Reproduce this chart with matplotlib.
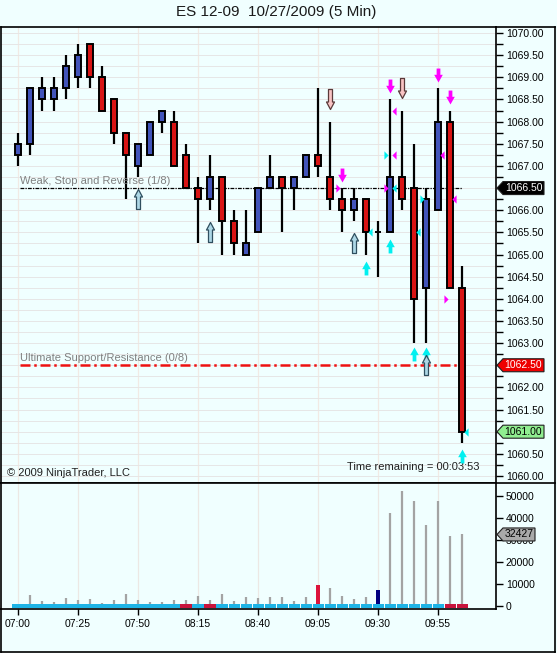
import numpy as np
import matplotlib
matplotlib.use('Agg')
import matplotlib.pyplot as plt
import matplotlib.transforms as mtransforms
from matplotlib.path import Path
from matplotlib.patches import Polygon
from matplotlib.ticker import MultipleLocator, FormatStrFormatter

plt.rcParams['font.family'] = ['Liberation Sans', 'DejaVu Sans']

# ES 12-09, 5 min bars 07:00 .. 10:05
opens = [1067.25, 1067.5, 1068.5, 1068.5, 1068.75, 1069.0, 1069.75, 1069.0, 1068.5, 1067.75,
         1067.0, 1067.25, 1068.0, 1068.0, 1067.25, 1066.5, 1066.25, 1066.75, 1065.75, 1065.0,
         1065.5, 1066.5, 1066.75, 1066.5, 1066.75, 1067.25, 1066.75, 1066.25, 1066.0, 1066.25,
         1065.5, 1065.5, 1066.75, 1066.5, 1064.25, 1066.0, 1068.0, 1064.25]
highs = [1067.75, 1068.75, 1069.0, 1069.0, 1069.5, 1069.75, 1069.75, 1069.25, 1068.5, 1067.75,
         1067.5, 1068.0, 1068.25, 1068.25, 1067.5, 1066.75, 1067.25, 1066.75, 1066.0, 1066.0,
         1066.5, 1067.25, 1066.75, 1066.75, 1067.25, 1068.75, 1068.0, 1066.5, 1066.5, 1066.25,
         1065.75, 1068.5, 1068.25, 1067.5, 1066.5, 1068.75, 1068.25, 1064.75]
lows = [1067.0, 1067.25, 1068.25, 1068.25, 1068.5, 1068.75, 1068.75, 1068.25, 1067.5, 1066.25,
        1066.75, 1067.25, 1067.75, 1067.0, 1066.5, 1065.25, 1066.0, 1065.0, 1065.0, 1065.0,
        1065.5, 1066.5, 1065.5, 1066.0, 1066.75, 1066.75, 1066.0, 1065.5, 1065.75, 1065.0,
        1064.5, 1065.5, 1066.0, 1063.0, 1063.0, 1066.0, 1064.25, 1060.75]
closes = [1067.5, 1068.75, 1068.75, 1068.75, 1069.25, 1069.5, 1069.0, 1068.25, 1067.75, 1067.25,
          1067.5, 1068.0, 1068.25, 1067.0, 1066.5, 1066.25, 1066.75, 1065.75, 1065.25, 1065.25,
          1066.5, 1066.75, 1066.5, 1066.75, 1067.25, 1067.0, 1066.25, 1066.0, 1066.25, 1065.5,
          1065.5, 1066.75, 1066.25, 1064.0, 1066.25, 1068.0, 1064.25, 1061.0]
volumes = [1000, 5000, 2300, 1700, 3600, 2700, 3200, 1500, 2700, 5500,
           2700, 1600, 1600, 2600, 2700, 4700, 2700, 5500, 2300, 4200,
           3800, 4200, 4200, 2300, 4200, 9500, 8300, 4700, 3200, 4200,
           7300, 42200, 52100, 47600, 36700, 47600, 31700, 32427]
time_labels = ['07:00', '07:25', '07:50', '08:15', '08:40', '09:05', '09:30', '09:55']

# bars whose volume is drawn as a coloured block, and bars with a red base marker
vol_special = {25: '#DC143C', 30: '#000080'}
base_red = [14, 16, 36, 37]

# Murrey math levels
level_prices = [1066.5, 1062.5]
level_names = ['Weak, Stop and Reverse (1/8)', 'Ultimate Support/Resistance (0/8)']
level_colors = ['black', '#EE1111']

# signal arrows: (bar, price)
buy_outline = [(10, 1066.25), (16, 1065.5), (28, 1065.25), (34, 1062.5)]
sell_outline = [(26, 1068.5), (32, 1068.75)]
sell_solid = [(27, 1066.8), (31, 1068.8), (35, 1069.05), (36, 1068.55)]
buy_solid = [(29, 1064.7), (31, 1065.2), (33, 1062.75), (34, 1062.75), (37, 1060.45)]
# small triangles: (bar, price, colour)
tri_right = [(27, 1066.5, 'm'), (31, 1066.5, 'm'), (36, 1064.0, 'm'), (31, 1067.25, 'c'), (34, 1066.25, 'c')]
tri_left = [(31, 1068.25, 'm'), (31, 1067.25, 'm'), (35, 1067.25, 'm'), (36, 1066.25, 'm'),
            (29, 1065.5, 'c'), (31, 1066.5, 'c'), (33, 1065.5, 'c'), (37, 1061.0, 'c')]

last_price = closes[-1]
last_volume = volumes[-1]

bg = '#F0FFFF'
blue = '#4254BA'
red = '#D81414'
tri_cols = {'m': '#FF00FF', 'c': '#00F0F0'}

W, H, DPI = 557, 653, 100
fig = plt.figure(figsize=(W / DPI, H / DPI), dpi=DPI, facecolor=bg)
ax = fig.add_axes([1 / W, 1 - 482.5 / H, 495 / W, 455.5 / H], facecolor=bg)
axv = fig.add_axes([1 / W, 1 - 609 / H, 495 / W, 126.5 / H], facecolor=bg)

n = len(opens)
x = np.arange(n)
o = np.array(opens)
c = np.array(closes)

# candles
ax.vlines(x, lows, highs, color='black', lw=1.6, zorder=3)
body_cols = [blue if cc >= oo else red for oo, cc in zip(o, c)]
ax.bar(x, np.abs(c - o), bottom=np.minimum(o, c), width=0.45, color=body_cols,
       edgecolor='black', linewidth=1.4, zorder=4)

# grid
for i in range(0, n, 5):
    ax.axvline(i, color='#F1EAE4', lw=0.9, zorder=0)
    axv.axvline(i, color='#ECE8E4', lw=0.9, zorder=0)
ax.yaxis.set_major_locator(MultipleLocator(0.5))
ax.yaxis.set_minor_locator(MultipleLocator(0.25))
ax.grid(which='both', axis='y', color='#E6E6E6', lw=0.7, zorder=0)
ax.set_axisbelow(True)

# levels
for lvl, name, col in zip(level_prices, level_names, level_colors):
    if col == 'black':
        ax.hlines(lvl, 0.15, n - 1, color=col, lw=0.9, linestyle=(0, (3, 1, 1, 1)), zorder=2)
    else:
        ax.hlines(lvl, 0.15, n - 1, color=col, lw=1.8, linestyle=(0, (4, 1.5, 1, 1.5)), zorder=2)
    ax.annotate(name, (0.15, lvl), xytext=(0, 1.5), textcoords='offset points',
                fontsize=8, color='#808080', va='bottom', ha='left')


def block_arrow(head_hw, shaft_hw, head_base, down=False):
    s = -1 if down else 1
    verts = [(-shaft_hw, -1), (shaft_hw, -1), (shaft_hw, head_base), (head_hw, head_base),
             (0, 1), (-head_hw, head_base), (-shaft_hw, head_base), (-shaft_hw, -1)]
    return Path([(vx, s * vy) for vx, vy in verts], closed=True)


up_out = block_arrow(0.4, 0.2, 0.25)
dn_out = block_arrow(0.4, 0.2, 0.25, down=True)
up_sol = block_arrow(0.62, 0.27, -0.1)
dn_sol = block_arrow(0.62, 0.27, -0.1, down=True)
tri_l = Path([(0.5, -1), (0.5, 1), (-0.5, 0), (0.5, -1)], closed=True)
tri_r = Path([(-0.5, -1), (-0.5, 1), (0.5, 0), (-0.5, -1)], closed=True)

for b, p in buy_solid:
    ax.plot(b, p, marker=up_sol, ms=10, color='#00F0F0', mew=0, zorder=6)
for b, p in sell_solid:
    ax.plot(b, p, marker=dn_sol, ms=10, color='#FF00FF', mew=0, zorder=6)
for b, p in buy_outline:
    ax.plot(b, p, marker=up_out, ms=14.4, mfc='#ADD8E6', mec='#2F4F5F', mew=0.9, zorder=7)
for b, p in sell_outline:
    ax.plot(b, p, marker=dn_out, ms=14.4, mfc='#F8C4C4', mec='#5A3A3A', mew=0.9, zorder=7)
for b, p, col in tri_right:
    ax.plot(b - 0.3, p, marker=tri_r, ms=6, color=tri_cols[col], mew=0, zorder=6)
for b, p, col in tri_left:
    ax.plot(b + 0.3, p, marker=tri_l, ms=6, color=tri_cols[col], mew=0, zorder=6)

# volume
for i, v in enumerate(volumes):
    if i in vol_special:
        axv.bar(i, v, width=0.32, color=vol_special[i], zorder=3)
    else:
        axv.vlines(i, 0, v, color='#A3A3A3', lw=1.6, zorder=3)
base_cols = ['#C8143C' if i in base_red else '#1EB4E6' for i in range(n)]
axv.bar(x, 1400, bottom=-700, width=0.92, color=base_cols, zorder=4)

# axes styling
for a in (ax, axv):
    a.set_xlim(-1.417, 39.83)
    a.yaxis.tick_right()
    for sp in a.spines.values():
        sp.set_linewidth(1.2)
        sp.set_color('black')
ax.set_ylim(1059.853, 1070.136)
axv.set_ylim(-1360, 55980)
ax.yaxis.set_major_formatter(FormatStrFormatter('%.2f'))
ax.tick_params(axis='y', which='both', direction='out', length=5, width=1, labelsize=7.5, pad=2)
ax.tick_params(axis='x', which='both', length=0, labelbottom=False)
axv.set_yticks([0, 10000, 20000, 30000, 40000, 50000])
axv.set_yticklabels(['0', '10000', '20000', '30000', '40000', '50000'])
axv.tick_params(axis='y', direction='out', length=5, width=1, labelsize=7.5, pad=2)
axv.set_xticks(range(0, n, 5))
axv.set_xticklabels(time_labels)
axv.tick_params(axis='x', direction='out', length=4, width=1, labelsize=7.5, pad=3)


def tag(a, y, text, fc, tc, w=48):
    anchor = mtransforms.blended_transform_factory(a.transAxes, a.transData)
    tr = (mtransforms.Affine2D().scale(1.0 / DPI) + fig.dpi_scale_trans +
          mtransforms.ScaledTranslation(1.0, y, anchor))
    poly = Polygon([(1, 0), (7, 6.5), (w, 6.5), (w, -6.5), (7, -6.5)], closed=True,
                   transform=tr, facecolor=fc, edgecolor='#202020', lw=0.8,
                   clip_on=False, zorder=8)
    a.add_artist(poly)
    a.text((7 + w) / 2, 0, text, transform=tr, ha='center', va='center',
           fontsize=7.5, color=tc, clip_on=False, zorder=9)


tag(ax, level_prices[0], '%.2f' % level_prices[0], 'black', 'white')
tag(ax, level_prices[1], '%.2f' % level_prices[1], '#EE0000', 'white')
tag(ax, last_price, '%.2f' % last_price, '#90EE90', 'black')
tag(axv, last_volume, str(last_volume), '#A9A9A9', 'black', w=39)

# texts
fig.text(276 / W, 1 - 12 / H, 'ES 12-09  10/27/2009 (5 Min)', ha='center', va='center',
         fontsize=11, color='#1A1A1A')
ax.text(0.012, 0.021, '\u00a9 2009 NinjaTrader, LLC', transform=ax.transAxes,
        fontsize=8, color='#202020', va='center', ha='left')
ax.text(0.699, 0.034, 'Time remaining = 00:03:53', transform=ax.transAxes,
        fontsize=8, color='#202020', va='center', ha='left')

# outer frame
frame_kw = dict(color='black', lw=1.2, transform=fig.transFigure)
fig.add_artist(plt.Line2D([496 / W, 555 / W], [1 - 27 / H, 1 - 27 / H], **frame_kw))
fig.add_artist(plt.Line2D([496 / W, 555 / W], [1 - 482.5 / H, 1 - 482.5 / H], **frame_kw))
fig.add_artist(plt.Line2D([555 / W, 555 / W], [1 - 27 / H, 1 - 652 / H], **frame_kw))
fig.add_artist(plt.Line2D([1 / W, 555 / W], [1 - 652 / H, 1 - 652 / H], **frame_kw))
fig.add_artist(plt.Line2D([1 / W, 1 / W], [1 - 609 / H, 1 - 652 / H], **frame_kw))

fig.savefig('out.png', dpi=DPI, facecolor=bg)
